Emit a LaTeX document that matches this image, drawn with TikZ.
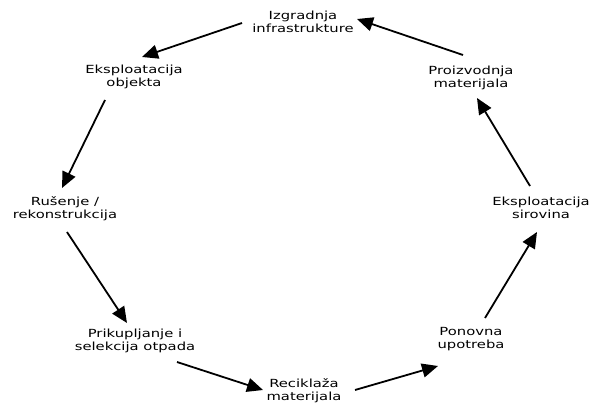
\documentclass[tikz,border=0pt]{standalone}
\usepackage{fontspec}
\setmainfont[FakeStretch=1.32]{DejaVu Sans}
\usetikzlibrary{arrows.meta,calc}
\begin{document}
\begin{tikzpicture}[x=1pt,y=-1pt,
  lbl/.style={align=center,font=\fontsize{11.2}{12.8}\selectfont,inner sep=0pt},
  arr/.style={line width=1.8pt,-{Triangle[length=16pt,width=14pt]}}]
\useasboundingbox (0,0) rectangle (592,403);
\node[lbl] (n1) at (303,22) {Izgradnja\\infrastrukture};
\node[lbl] (n2) at (134,77) {Eksploatacija\\objekta};
\node[lbl] (n3) at (65,209) {Rušenje /\\rekonstrukcija};
\node[lbl] (n4) at (135,341) {Prikupljanje i\\selekcija otpada};
\node[lbl] (n5) at (304,391) {Reciklaža\\materijala};
\node[lbl] (n6) at (471,339) {Ponovna\\upotreba};
\node[lbl] (n7) at (541,208) {Eksploatacija\\sirovina};
\node[lbl] (n8) at (471,78) {Proizvodnja\\materijala};
\draw[arr] ($(n1)+(-61,1)$) -- ($(n2)+(8,-20)$);
\draw[arr] ($(n2)+(-29,23)$) -- ($(n3)+(-3,-21)$);
\draw[arr] ($(n3)+(2,23)$) -- ($(n4)+(-8,-18)$);
\draw[arr] ($(n4)+(42,21)$) -- ($(n5)+(-41,-1)$);
\draw[arr] ($(n5)+(51,-1)$) -- ($(n6)+(-33,27)$);
\draw[arr] ($(n6)+(14,-21)$) -- ($(n7)+(-4,24)$);
\draw[arr] ($(n7)+(-11,-22)$) -- ($(n8)+(6,20)$);
\draw[arr] ($(n8)+(-8,-23)$) -- ($(n1)+(54,-3)$);
\end{tikzpicture}
\end{document}
